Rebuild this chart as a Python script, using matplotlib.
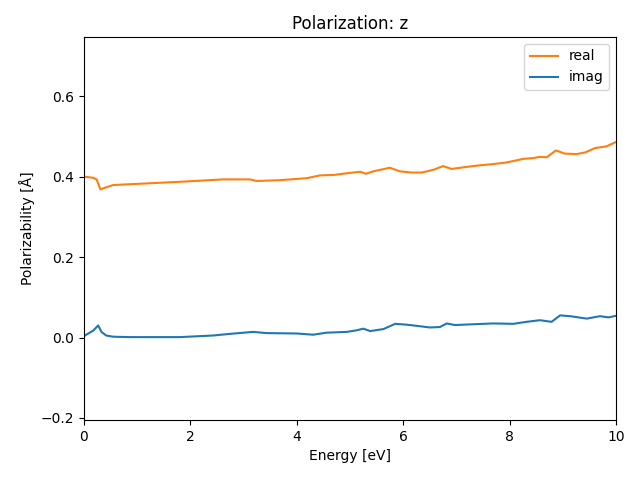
import numpy as np
import matplotlib
matplotlib.use('Agg')
import matplotlib.pyplot as plt

# 실수부 (real)
energy_real = [0.0, 0.175, 0.24, 0.31, 0.39, 0.55, 1.18, 1.80, 2.62, 3.12, 3.25, 3.68,
               4.19, 4.44, 4.69, 4.99, 5.19, 5.30, 5.44, 5.75, 5.94, 6.16, 6.35, 6.57,
               6.75, 6.91, 7.19, 7.44, 7.69, 7.94, 8.26, 8.45, 8.57, 8.70, 8.87, 9.04,
               9.26, 9.42, 9.61, 9.82, 10.0]
alpha_real = [0.400, 0.397, 0.393, 0.368, 0.372, 0.379, 0.383, 0.387, 0.393, 0.393, 0.389, 0.391,
              0.396, 0.403, 0.404, 0.409, 0.412, 0.407, 0.413, 0.422, 0.413, 0.410, 0.410, 0.417,
              0.426, 0.419, 0.424, 0.428, 0.431, 0.435, 0.444, 0.446, 0.449, 0.448, 0.465, 0.457,
              0.456, 0.460, 0.471, 0.475, 0.486]

# 허수부 (imag)
energy_imag = [0.0, 0.02, 0.175, 0.27, 0.33, 0.42, 0.55, 0.86, 1.80, 2.43, 2.74, 3.18,
               3.43, 4.00, 4.31, 4.56, 4.94, 5.13, 5.25, 5.38, 5.63, 5.85, 6.06, 6.32,
               6.50, 6.69, 6.82, 6.97, 7.32, 7.69, 8.07, 8.32, 8.57, 8.79, 8.95, 9.14,
               9.45, 9.70, 9.86, 10.0]
alpha_imag = [0.002, 0.005, 0.017, 0.030, 0.014, 0.005, 0.002, 0.001, 0.001, 0.005, 0.009, 0.014,
              0.011, 0.010, 0.007, 0.012, 0.014, 0.018, 0.022, 0.016, 0.021, 0.034, 0.032, 0.028,
              0.025, 0.026, 0.035, 0.031, 0.033, 0.035, 0.034, 0.039, 0.043, 0.039, 0.055, 0.053,
              0.047, 0.053, 0.050, 0.054]

plt.figure(figsize=(6.4, 4.8), dpi=100)
plt.plot(energy_real, alpha_real, color='C1', label='real')
plt.plot(energy_imag, alpha_imag, color='C0', label='imag')
plt.title('Polarization: z')
plt.xlabel('Energy [eV]')
plt.ylabel('Polarizability [Å]')
plt.xlim(0, 10)
plt.ylim(-0.205, 0.747)
plt.legend(loc='upper right')
plt.subplots_adjust(left=0.131, right=0.9625, top=0.923, bottom=0.125)
plt.savefig('out.png')
